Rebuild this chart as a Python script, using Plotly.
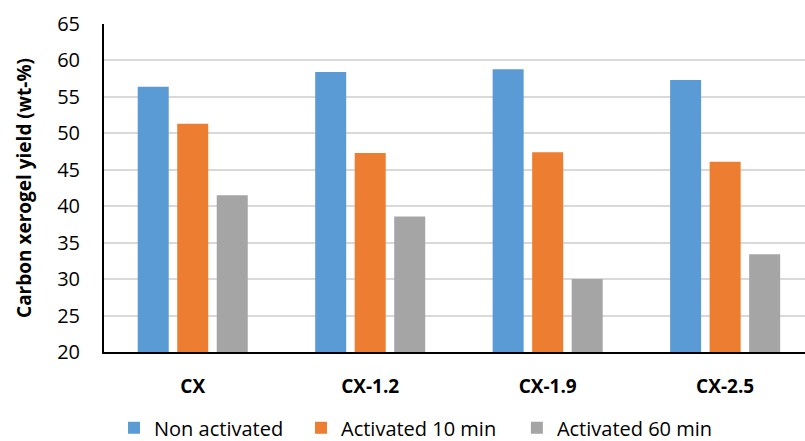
import plotly.graph_objects as go

# Sample names and yields (wt-%)
categories = ["CX", "CX-1.2", "CX-1.9", "CX-2.5"]
non_activated = [56.4, 58.4, 58.8, 57.3]
activated_10 = [51.3, 47.3, 47.4, 46.1]
activated_60 = [41.5, 38.6, 30.0, 33.4]

series_names = ["Non activated", "Activated 10 min", "Activated 60 min"]
series_colors = ["#5B9BD5", "#ED7D31", "#A5A5A5"]

y_ticks = list(range(20, 66, 5))

font_family = "Open Sans"

# each series gets its own legend box so the entries can be spaced freely
legend_ids = ["legend", "legend2", "legend3"]
legend_x = [0.0143, 0.281, 0.589]

fig = go.Figure()
for name, vals, color, lg in zip(series_names,
                                 [non_activated, activated_10, activated_60],
                                 series_colors, legend_ids):
    fig.add_trace(go.Bar(
        x=categories,
        y=vals,
        name=name,
        legend=lg,
        marker=dict(color=color, line=dict(width=0)),
    ))

legend_style = dict(
    orientation="h",
    xanchor="left",
    yref="container",
    y=0.03,
    yanchor="middle",
    font=dict(family=font_family, size=20, color="#000000"),
    bgcolor="rgba(0,0,0,0)",
    itemclick=False,
    itemwidth=30,
)

fig.update_layout(
    width=805,
    height=441,
    margin=dict(l=104, r=0, t=24, b=89, autoexpand=False),
    paper_bgcolor="white",
    plot_bgcolor="white",
    barmode="group",
    bargap=0.332,
    bargroupgap=0.215,
    font=dict(family=font_family, color="#000000"),
    showlegend=True,
    legend=dict(x=legend_x[0], **legend_style),
    legend2=dict(x=legend_x[1], **legend_style),
    legend3=dict(x=legend_x[2], **legend_style),
    xaxis=dict(
        range=[-0.5, 3.45],
        automargin=False,
        showgrid=False,
        showline=True,
        linecolor="#000000",
        linewidth=2,
        ticks="",
        ticklabelstandoff=16,
        tickfont=dict(family=font_family, size=19, color="#000000", weight="bold"),
        zeroline=False,
    ),
    yaxis=dict(
        range=[20, 65],
        automargin=False,
        tickvals=y_ticks,
        showgrid=True,
        gridcolor="#D9D9D9",
        gridwidth=2,
        showline=True,
        linecolor="#000000",
        linewidth=2,
        ticks="",
        ticklabelstandoff=18,
        tickfont=dict(family=font_family, size=20, color="#000000"),
        zeroline=False,
        title=dict(
            text="Carbon xerogel yield (wt-%)",
            font=dict(family=font_family, size=19, color="#000000", weight="bold"),
            standoff=20,
        ),
    ),
)

fig.write_html("out.html")
